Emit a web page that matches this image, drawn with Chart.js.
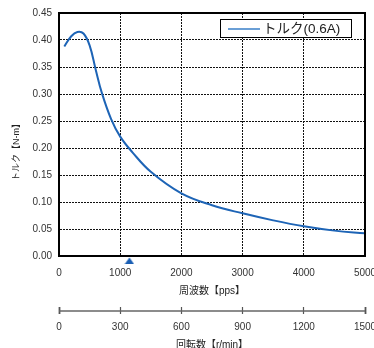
<!DOCTYPE html>
<html>
<head>
<meta charset="utf-8">
<script src="https://cdn.jsdelivr.net/npm/chart.js@4/dist/chart.umd.min.js"></script>
<style>
  html, body { margin: 0; padding: 0; background: #fff; overflow: hidden; }
  #wrap { width: 374px; height: 348px; position: relative; }
</style>
</head>
<body>
<div id="wrap"><canvas id="torqueChart"></canvas></div>
<script>
// data
const torqueLabel = "トルク(0.6A)";
const freqPps = [87, 200, 300, 400, 500, 600, 700, 850, 1000, 1200, 1500, 2000, 2500, 3000, 3500, 4000, 4500, 5000];
const torqueNm = [0.388, 0.407, 0.415, 0.412, 0.390, 0.345, 0.302, 0.254, 0.221, 0.192, 0.156, 0.116, 0.094, 0.079, 0.066, 0.055, 0.047, 0.042];
const markerPps = [1150];
const markerY = [0];
const ppsTicks = [0, 1000, 2000, 3000, 4000, 5000];
const torqueTicks = [0, 0.05, 0.10, 0.15, 0.20, 0.25, 0.30, 0.35, 0.40, 0.45];
const rpmTicks = [0, 300, 600, 900, 1200, 1500];

const FONT = "'Liberation Sans', 'Noto Sans CJK JP', sans-serif";

// triangle sitting just under the axis (point is drawn centred on y = 0)
const tri = document.createElement("canvas");
tri.width = 10;
tri.height = 18;
const tctx = tri.getContext("2d");
tctx.fillStyle = "#1a5fb4";
tctx.beginPath();
tctx.moveTo(5, 10.5);
tctx.lineTo(9.6, 17);
tctx.lineTo(0.4, 17);
tctx.closePath();
tctx.fill();

// frame, legend box, y title, rpm axis line
const extras = {
    id: "extras",
    afterDraw(chart) {
        const ctx = chart.ctx;
        const a = chart.chartArea;
        ctx.save();

        // top / right frame
        ctx.strokeStyle = "#000";
        ctx.lineWidth = 2;
        ctx.beginPath();
        ctx.moveTo(a.left, a.top);
        ctx.lineTo(a.right, a.top);
        ctx.lineTo(a.right, a.bottom);
        ctx.stroke();

        // rpm axis line
        const x2 = chart.scales.x2;
        ctx.strokeStyle = "#666";
        ctx.lineWidth = 1.5;
        ctx.beginPath();
        ctx.moveTo(x2.left, x2.top + 4);
        ctx.lineTo(x2.right, x2.top + 4);
        ctx.stroke();

        // y title
        ctx.fillStyle = "#222";
        ctx.font = "9px " + FONT;
        ctx.textAlign = "center";
        ctx.textBaseline = "middle";
        ctx.translate(17, 150);
        ctx.rotate(-Math.PI / 2);
        ctx.fillText("トルク【N-m】", 0, 0);
        ctx.setTransform(1, 0, 0, 1, 0, 0);

        // legend
        const ds = chart.data.datasets[0];
        ctx.fillStyle = "#fff";
        ctx.fillRect(220, 19, 132, 19);
        ctx.strokeStyle = "#000";
        ctx.lineWidth = 1;
        ctx.strokeRect(220.5, 19.5, 131, 18);
        ctx.strokeStyle = "#6a9fd6";
        ctx.lineWidth = 2;
        ctx.beginPath();
        ctx.moveTo(228, 29);
        ctx.lineTo(260, 29);
        ctx.stroke();
        ctx.fillStyle = "#222";
        ctx.font = "13.5px " + FONT;
        ctx.textAlign = "left";
        ctx.textBaseline = "middle";
        ctx.fillText(ds.label, 263, 29);

        ctx.restore();
    }
};

new Chart(document.getElementById("torqueChart"), {
    type: "line",
    data: {
        datasets: [{
            label: torqueLabel,
            data: freqPps.map((x, i) => ({ x: x, y: torqueNm[i] })),
            borderColor: "#1d64b6",
            borderWidth: 2,
            pointRadius: 0,
            tension: 0.4,
            fill: false
        }, {
            label: "marker",
            data: markerPps.map((x, i) => ({ x: x, y: markerY[i] })),
            showLine: false,
            pointStyle: tri,
            pointRadius: 5,
            clip: false
        }]
    },
    options: {
        responsive: true,
        maintainAspectRatio: false,
        animation: false,
        layout: { padding: { top: 13, right: 9, left: 0, bottom: 0 } },
        plugins: { legend: { display: false }, tooltip: { enabled: false } },
        scales: {
            x: {
                type: "linear",
                position: "bottom",
                weight: 0,
                min: 0,
                max: 5000,
                afterBuildTicks: s => { s.ticks = ppsTicks.map(v => ({ value: v })); },
                afterFit: s => { s.height = 51; s.paddingLeft = 0; s.paddingRight = 0; },
                ticks: {
                    padding: 11,
                    color: "#333",
                    font: { family: FONT, size: 10 },
                    maxRotation: 0,
                    callback: v => String(v)
                },
                grid: { color: "#111", lineWidth: 1, drawTicks: false },
                border: { color: "#000", width: 2, dash: [2, 1] },
                title: {
                    display: true,
                    text: "周波数【pps】",
                    color: "#222",
                    font: { family: FONT, size: 10 },
                    padding: { top: 0, bottom: 10 }
                }
            },
            x2: {
                type: "linear",
                position: "bottom",
                weight: 1,
                min: 0,
                max: 1500,
                afterBuildTicks: s => { s.ticks = rpmTicks.map(v => ({ value: v })); },
                afterFit: s => { s.height = 41; s.paddingLeft = 0; s.paddingRight = 0; },
                ticks: {
                    padding: 7,
                    color: "#333",
                    font: { family: FONT, size: 10 },
                    maxRotation: 0,
                    callback: v => String(v)
                },
                grid: {
                    drawOnChartArea: false,
                    drawTicks: true,
                    tickLength: 7,
                    tickColor: "#555",
                    tickWidth: c => (c.index === 0 || c.index === rpmTicks.length - 1) ? 1.8 : 1.2
                },
                border: { display: false },
                title: {
                    display: true,
                    text: "回転数【r/min】",
                    color: "#222",
                    font: { family: FONT, size: 10, lineHeight: 0.6 },
                    padding: { top: 0, bottom: 0 }
                }
            },
            y: {
                type: "linear",
                min: 0,
                max: 0.45,
                afterBuildTicks: s => { s.ticks = torqueTicks.map(v => ({ value: v })); },
                afterFit: s => { s.width = 59; s.paddingTop = 0; s.paddingBottom = 0; },
                ticks: {
                    padding: 7,
                    color: "#333",
                    font: { family: FONT, size: 10 },
                    callback: v => v.toFixed(2)
                },
                grid: { color: "#111", lineWidth: 1, drawTicks: false },
                border: { color: "#000", width: 2, dash: [2, 1] }
            }
        }
    },
    plugins: [extras]
});
</script>
</body>
</html>
